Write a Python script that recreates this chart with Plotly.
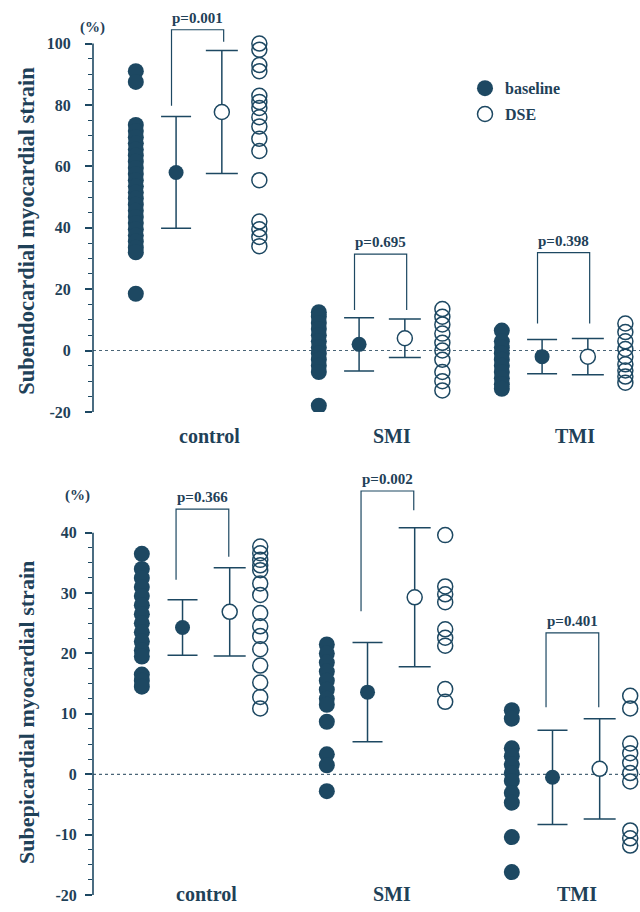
import plotly.graph_objects as go

W, H = 640, 912
groups = ["control", "SMI", "TMI"]

# ---------------- Top panel: Subendocardial myocardial strain (%) ----------------
endo_base = {
    "control": [91, 87.5, 73.5, 71.5, 69.5, 67.5, 65.5, 63.5, 61.5, 59.5, 57.5, 55.5, 53.5,
                51.5, 49.5, 47.5, 45.5, 43.5, 41.5, 39.5, 37.5, 35.5, 33.5, 32, 18.5],
    "SMI": [12.5, 11, 9, 7, 5, 3, 1, -1, -3, -5, -7, -18],
    "TMI": [6.5, 3, 1, -1, -3, -5, -7, -9, -11, -12.5],
}
endo_dse = {
    "control": [100, 98, 93, 91, 83, 81, 79, 76, 73, 69, 65, 55.5, 42, 39.5, 37, 34],
    "SMI": [13.5, 11, 8.5, 5.5, 2.5, 0, -3, -7, -10, -13],
    "TMI": [8.8, 6, 3, 0.5, -2, -4.5, -6.5, -8.5, -10.5],
}
endo_base_mean = [58, 2, -2]
endo_base_sd = [18.2, 8.7, 5.6]
endo_dse_mean = [77.7, 4, -2]
endo_dse_sd = [20, 6.3, 5.9]
endo_p = ["p=0.001", "p=0.695", "p=0.398"]
endo_bracket_top = [104.5, 31.4, 31.9]
endo_bracket_left = [79.7, 13.2, 8.8]
endo_bracket_right = [100.6, 13.2, 8.8]

# ---------------- Bottom panel: Subepicardial myocardial strain (%) ----------------
epi_base = {
    "control": [36.5, 34, 32.5, 31, 29.5, 28, 26.5, 25, 23.5, 22, 20.5, 19.5, 16.5, 15.5, 14.5],
    "SMI": [21.5, 20, 18.5, 17, 15.5, 14, 12.5, 11.5, 8.7, 3.3, 1.5, -2.8],
    "TMI": [10.6, 9.2, 4.3, 3.0, 1.6, 0.2, -1.1, -3.1, -4.7, -10.4, -16.2],
}
epi_dse = {
    "control": [37.7, 36.6, 35.5, 34.6, 33.8, 31.6, 29.7, 26.7, 24.5, 22.9, 20.7, 18, 15.2, 12.8, 10.9],
    "SMI": [39.6, 31.1, 29.8, 28.5, 24, 22.6, 21.3, 14.1, 12],
    "TMI": [13, 10.9, 5.1, 3.5, 1.9, 0.2, -1.2, -9.3, -10.6, -11.8],
}
epi_base_mean = [24.3, 13.6, -0.5]
epi_base_sd = [4.6, 8.2, 7.8]
epi_dse_mean = [26.9, 29.3, 0.9]
epi_dse_sd = [7.3, 11.5, 8.3]
epi_p = ["p=0.366", "p=0.002", "p=0.401"]
epi_bracket_top = [43.9, 46.9, 23.4]
epi_bracket_left = [32.2, 27, 11.1]
epi_bracket_right = [36.0, 43.7, 11.1]

# ---------------- styling ----------------
C = "#1d4862"
TXT = "#1f4158"
FONT = "Liberation Serif"

panels = [
    dict(x="x", y="y", xa="xaxis", ya="yaxis",
         base=endo_base, dse=endo_dse, bm=endo_base_mean, bs=endo_base_sd,
         dm=endo_dse_mean, ds=endo_dse_sd, p=endo_p,
         bt=endo_bracket_top, bl=endo_bracket_left, br=endo_bracket_right,
         offs=(-0.34, -0.12, 0.13, 0.335), boffs=(-0.145, 0.14),
         px_dom=(13, 416), yr=(-20, 110), ytop=100, dtick=20, minor=5,
         xr=(-0.574, 2.415), standoff=11,
         title="Subendocardial myocardial strain", title_y=233, title_size=22.5,
         pct=(92, 28), cat_y=440, cat_off=0.06),
    dict(x="x2", y="y2", xa="xaxis2", ya="yaxis2",
         base=epi_base, dse=epi_dse, bm=epi_base_mean, bs=epi_base_sd,
         dm=epi_dse_mean, ds=epi_dse_sd, p=epi_p,
         bt=epi_bracket_top, bl=epi_bracket_left, br=epi_bracket_right,
         offs=(-0.32, -0.10, 0.155, 0.32), boffs=(-0.135, 0.15),
         px_dom=(477, 904), yr=(-20, 50), ytop=40, dtick=10, minor=2.5,
         xr=(-0.584, 2.373), standoff=5,
         title="Subepicardial myocardial strain", title_y=720, title_size=22,
         pct=(77, 500), cat_y=903, cat_off=0.03),
]

fig = go.Figure()
annotations = []
shapes = []
layout_axes = {}

for pi, P in enumerate(panels):
    o_bd, o_bm, o_dm, o_dd = P["offs"]
    for gi, g in enumerate(groups):
        # bracket
        xl = gi + P["boffs"][0]
        xr_ = gi + P["boffs"][1]
        fig.add_trace(go.Scatter(
            x=[xl, xl, xr_, xr_],
            y=[P["bl"][gi], P["bt"][gi], P["bt"][gi], P["br"][gi]],
            mode="lines", line=dict(color=C, width=1.2),
            xaxis=P["x"], yaxis=P["y"], showlegend=False, hoverinfo="skip"))
        annotations.append(dict(
            x=(xl + xr_) / 2, y=P["bt"][gi], xref=P["x"], yref=P["y"],
            text="<b>%s</b>" % P["p"][gi], showarrow=False, yanchor="bottom", yshift=2,
            font=dict(family=FONT, size=15, color=TXT)))
        # individual baseline dots
        fig.add_trace(go.Scatter(
            x=[gi + o_bd] * len(P["base"][g]), y=P["base"][g], mode="markers",
            marker=dict(size=16, color=C, line=dict(width=0)),
            name="baseline", legendgroup="b",
            showlegend=(pi == 0 and gi == 0),
            xaxis=P["x"], yaxis=P["y"], hoverinfo="skip"))
        # individual DSE dots
        fig.add_trace(go.Scatter(
            x=[gi + o_dd] * len(P["dse"][g]), y=P["dse"][g], mode="markers",
            marker=dict(size=15, color="rgba(255,255,255,0)", line=dict(width=1.5, color=C)),
            name="DSE", legendgroup="d",
            showlegend=(pi == 0 and gi == 0),
            xaxis=P["x"], yaxis=P["y"], hoverinfo="skip"))
        # baseline mean +/- SD
        fig.add_trace(go.Scatter(
            x=[gi + o_bm], y=[P["bm"][gi]], mode="markers",
            marker=dict(size=15, color=C, line=dict(width=0)),
            error_y=dict(type="data", array=[P["bs"][gi]], visible=True,
                         color=C, thickness=1.5, width=15),
            xaxis=P["x"], yaxis=P["y"], showlegend=False, hoverinfo="skip"))
        # DSE mean +/- SD
        fig.add_trace(go.Scatter(
            x=[gi + o_dm], y=[P["dm"][gi]], mode="markers",
            marker=dict(size=15, color="white", line=dict(width=1.5, color=C)),
            error_y=dict(type="data", array=[P["ds"][gi]], visible=True,
                         color=C, thickness=1.5, width=16),
            xaxis=P["x"], yaxis=P["y"], showlegend=False, hoverinfo="skip"))
        # category label
        annotations.append(dict(
            x=gi + P["cat_off"], y=1 - P["cat_y"] / H, xref=P["x"], yref="paper",
            text="<b>%s</b>" % g, showarrow=False, yanchor="middle",
            font=dict(family=FONT, size=20, color=TXT)))

    y0, y1 = P["yr"]
    major = list(range(y0, P["ytop"] + 1, P["dtick"]))
    minors = []
    v = y0
    while v <= P["ytop"] + 1e-9:
        minors.append(v)
        v += P["minor"]
    layout_axes[P["xa"]] = dict(domain=[93 / W, 1], range=list(P["xr"]), visible=False,
                                anchor=P["y"])
    layout_axes[P["ya"]] = dict(
        domain=[1 - P["px_dom"][1] / H, 1 - P["px_dom"][0] / H], range=[y0, y1],
        anchor=P["x"], showline=False, showgrid=False, zeroline=False,
        tickmode="array", tickvals=major, ticktext=["<b>%d</b>" % t for t in major],
        ticks="outside", ticklen=7, tickwidth=1.5, tickcolor=C,
        ticklabelstandoff=P["standoff"],
        tickfont=dict(family=FONT, size=16, color=TXT),
        minor=dict(tickmode="array", tickvals=minors, ticks="outside", ticklen=4,
                   tickwidth=1.2, tickcolor=C, showgrid=False))
    # axis line (from bottom to top tick)
    shapes.append(dict(type="line", xref="%s domain" % P["x"], yref=P["y"],
                       x0=0, x1=0, y0=y0, y1=P["ytop"], line=dict(color=C, width=1.6)))
    # dotted zero reference line
    shapes.append(dict(type="line", xref="%s domain" % P["x"], yref=P["y"],
                       x0=0, x1=1, y0=0, y1=0, line=dict(color="#4a6577", width=1.2, dash="dot"),
                       layer="below"))
    # y title
    annotations.append(dict(
        x=27 / W, y=1 - P["title_y"] / H, xref="paper", yref="paper",
        text="<b>%s</b>" % P["title"], showarrow=False, textangle=-90,
        xanchor="center", yanchor="middle",
        font=dict(family=FONT, size=P["title_size"], color=TXT)))
    annotations.append(dict(
        x=P["pct"][0] / W, y=1 - P["pct"][1] / H, xref="paper", yref="paper",
        text="<b>(%)</b>", showarrow=False, xanchor="center", yanchor="middle",
        font=dict(family=FONT, size=15, color=TXT)))

fig.update_layout(
    width=W, height=H,
    margin=dict(l=0, r=0, t=0, b=0),
    paper_bgcolor="white", plot_bgcolor="white",
    showlegend=True,
    legend=dict(x=465 / W, y=1 - 72 / H, xanchor="left", yanchor="top",
                font=dict(family=FONT, size=16, color=TXT),
                bgcolor="rgba(0,0,0,0)", tracegroupgap=2, itemsizing="trace"),
    annotations=annotations, shapes=shapes,
    **layout_axes,
)
fig.for_each_trace(lambda t: t.update(name="<b>%s</b>" % t.name) if t.showlegend else None)

fig.write_html("out.html")
